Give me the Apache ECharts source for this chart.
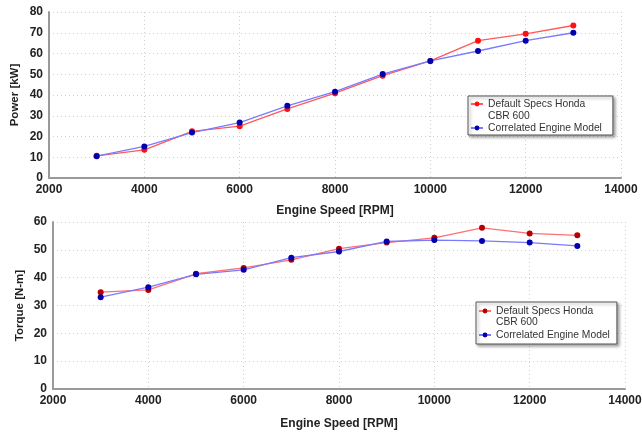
<!DOCTYPE html>
<html>
<head>
<meta charset="utf-8">
<script src="https://cdn.jsdelivr.net/npm/echarts@6/dist/echarts.min.js"></script>
<style>
  html, body { margin: 0; padding: 0; background: #fff; }
  #chart { width: 642px; height: 432px; }
</style>
</head>
<body>
<div id="chart"></div>
<script>
// Engine speed samples (RPM)
const rpm = [3000, 4000, 5000, 6000, 7000, 8000, 9000, 10000, 11000, 12000, 13000];

// Power [kW]
const powerDefault = [10.7, 13.6, 22.5, 25.0, 33.3, 40.9, 49.3, 56.4, 66.2, 69.5, 73.5];
const powerModel   = [10.5, 15.2, 21.9, 26.7, 34.8, 41.6, 50.1, 56.4, 61.2, 66.2, 70.0];

// Torque [N-m]
const torqueDefault = [34.8, 35.6, 41.4, 43.5, 46.4, 50.4, 52.6, 54.3, 57.9, 55.9, 55.2];
const torqueModel   = [33.0, 36.6, 41.2, 42.8, 47.2, 49.4, 53.0, 53.5, 53.2, 52.6, 51.4];

// Legend / axis texts
const labelDefault = ['Default Specs Honda', 'CBR 600'];
const labelModel = 'Correlated Engine Model';
const xName = 'Engine Speed [RPM]';
const powerName = 'Power [kW]';
const torqueName = 'Torque [N-m]';

const legendText = {
  pDefault: labelDefault[0], pModel: labelModel,
  tDefault: labelDefault[0], tModel: labelModel
};

const pairs = (ys) => rpm.map((x, i) => [x, ys[i]]);

const tickFont = { fontFamily: 'Liberation Sans', fontWeight: 'bold', fontSize: 12, color: '#222' };
const xNameFont = { fontFamily: 'Liberation Sans', fontWeight: 'bold', fontSize: 12, color: '#222' };
const yNameFont = { fontFamily: 'Liberation Sans', fontWeight: 'bold', fontSize: 11.5, color: '#222' };
const legendFont = { fontFamily: 'Liberation Sans', fontSize: 10.3, color: '#333', lineHeight: 12 };

function xAxis(gridIndex, gap) {
  return {
    gridIndex, type: 'value', min: 2000, max: 14000, interval: 2000,
    name: xName, nameLocation: 'middle', nameGap: gap, nameTextStyle: xNameFont,
    nameMoveOverlap: false,
    axisLine: { show: true, lineStyle: { color: '#9a9a9a', width: 2 } },
    axisTick: { show: false },
    axisLabel: Object.assign({ margin: 6, formatter: (v) => String(v) }, tickFont),
    splitLine: { show: true, lineStyle: { color: '#cfcfcf', type: [1, 3], width: 1 } }
  };
}
function yAxis(gridIndex, max, name, gap) {
  return {
    gridIndex, type: 'value', min: 0, max, interval: 10,
    name, nameLocation: 'middle', nameGap: gap, nameTextStyle: yNameFont,
    nameMoveOverlap: false,
    axisLine: { show: true, lineStyle: { color: '#9a9a9a', width: 2 } },
    axisTick: { show: false },
    axisLabel: Object.assign({ margin: 6 }, tickFont),
    splitLine: { show: true, lineStyle: { color: '#cfcfcf', type: [1, 3], width: 1 } }
  };
}
function line(name, xi, data, lineColor, dotColor) {
  return {
    name, type: 'line', xAxisIndex: xi, yAxisIndex: xi, data: pairs(data),
    symbol: 'circle', symbolSize: 6,
    lineStyle: { color: lineColor, width: 1.3 },
    itemStyle: { color: dotColor },
    z: name.endsWith('Model') ? 3 : 2
  };
}
// Boxed legend; the second line of the first entry is set as a text element below it
function legend(left, top, names, pad) {
  return {
    orient: 'vertical', left, top,
    data: names,
    formatter: (n) => legendText[n],
    itemWidth: 12, itemHeight: 6, itemGap: 12,
    textStyle: legendFont,
    backgroundColor: '#fff', borderColor: '#555', borderWidth: 1,
    padding: pad,
    shadowBlur: 3, shadowOffsetX: 2, shadowOffsetY: 2, shadowColor: 'rgba(0,0,0,0.35)',
    selectedMode: false
  };
}
function secondLine(x, y) {
  return {
    type: 'text', left: x, top: y, z: 100,
    style: { text: labelDefault[1], font: '10.3px "Liberation Sans"', fill: '#333' }
  };
}

const chart = echarts.init(document.getElementById('chart'), null, { renderer: 'canvas' });
chart.setOption({
  animation: false,
  backgroundColor: '#fff',
  grid: [
    { left: 49, right: 21, top: 12, height: 166, outerBoundsMode: 'none' },
    { left: 53, right: 17, top: 222, height: 167, outerBoundsMode: 'none' }
  ],
  xAxis: [xAxis(0, 27), xAxis(1, 29)],
  yAxis: [yAxis(0, 80, powerName, 28), yAxis(1, 60, torqueName, 27)],
  legend: [
    legend(468, 96, ['pDefault', 'pModel'], [2, 11, 1, 2]),
    legend(476, 302, ['tDefault', 'tModel'], [3, 7, 3, 2])
  ],
  graphic: [
    secondLine(488, 111),
    secondLine(496, 317)
  ],
  series: [
    line('pDefault', 0, powerDefault, '#ff5a5a', '#ff1010'),
    line('pModel', 0, powerModel, '#7a7aff', '#0000b0'),
    line('tDefault', 1, torqueDefault, '#ff7070', '#b80000'),
    line('tModel', 1, torqueModel, '#7a7aff', '#0000b0')
  ]
});
</script>
</body>
</html>
